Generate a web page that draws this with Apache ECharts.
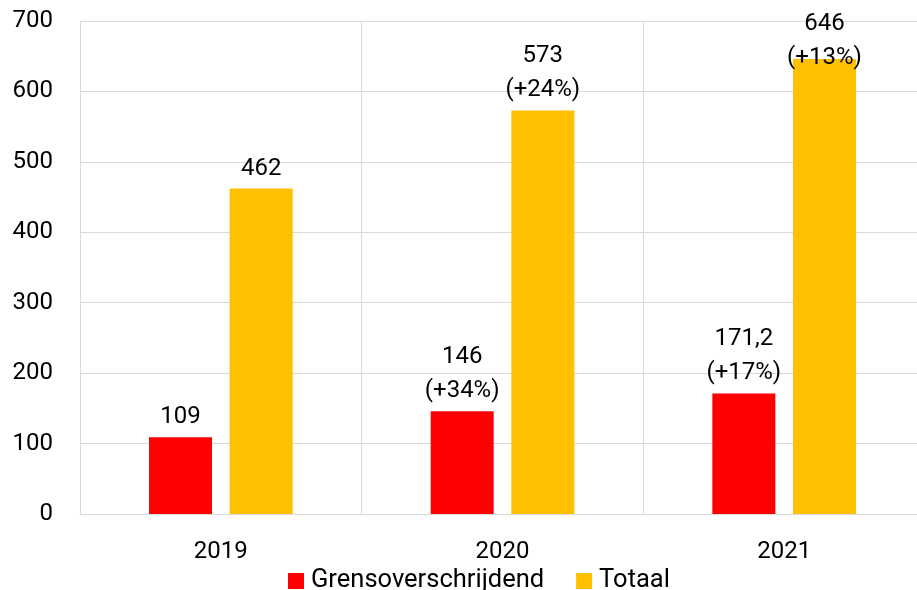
<!DOCTYPE html>
<html>
<head>
<meta charset="utf-8">
<script src="https://cdn.jsdelivr.net/npm/echarts@6/dist/echarts.min.js"></script>
<style>
  html, body { margin: 0; padding: 0; background: #fff; }
  #chart { width: 917px; height: 590px; }
</style>
</head>
<body>
<div id="chart"></div>
<script>
const years = ["2019", "2020", "2021"];
const grens = [109, 146, 171.2];
const totaal = [462, 573, 646];
const grensGrowth = [null, "+34%", "+17%"];
const totaalGrowth = [null, "+24%", "+13%"];
const yTicks = [0, 100, 200, 300, 400, 500, 600, 700];

const font = "Roboto, 'Noto Sans', sans-serif";
const textColor = "#000";
const gridColor = "#d9d9d9";

const nl = new Intl.NumberFormat("nl-NL", { maximumFractionDigits: 1 });

function labelText(value, growth) {
  const v = nl.format(value);
  return growth ? `${v}\n(${growth})` : v;
}

function seriesData(values, growth, nudge) {
  return values.map((value, i) => {
    const item = {
      value,
      label: { formatter: labelText(value, growth[i]) },
    };
    if (nudge && nudge[i]) item.label.offset = [0, nudge[i]];
    return item;
  });
}

const chart = echarts.init(document.getElementById("chart"), null, { renderer: "canvas" });

const barLabel = {
  show: true,
  position: "top",
  distance: 3,
  color: textColor,
  fontFamily: font,
  fontSize: 24,
  lineHeight: 34,
};

chart.setOption({
  animation: false,
  textStyle: { fontFamily: font },
  // plot runs a little past the right edge of the canvas, like the original
  grid: { left: 80, width: 845, top: 21, bottom: 76, outerBoundsMode: "none" },
  legend: {
    top: 563,
    left: 283,
    itemWidth: 16,
    itemHeight: 16,
    itemGap: 32,
    icon: "rect",
    textStyle: { color: textColor, fontFamily: font, fontSize: 25.5, padding: [0, 0, 0, 2] },
    data: ["Grensoverschrijdend", "Totaal"],
  },
  xAxis: {
    type: "category",
    data: years,
    axisLine: { show: true, lineStyle: { color: gridColor, width: 1 } },
    axisTick: { show: false },
    axisLabel: { color: textColor, fontFamily: font, fontSize: 24, margin: 26 },
    splitLine: { show: true, lineStyle: { color: gridColor, width: 1 } },
  },
  yAxis: {
    type: "value",
    min: yTicks[0],
    max: yTicks[yTicks.length - 1],
    interval: 100,
    axisLine: { show: false },
    axisTick: { show: false },
    axisLabel: { color: textColor, fontFamily: font, fontSize: 24, margin: 27 },
    splitLine: { lineStyle: { color: gridColor, width: 1 } },
  },
  series: [
    {
      name: "Grensoverschrijdend",
      type: "bar",
      data: seriesData(grens, grensGrowth),
      barWidth: 63,
      barGap: "28%",
      itemStyle: { color: "#ff0000" },
      label: barLabel,
    },
    {
      name: "Totaal",
      type: "bar",
      data: seriesData(totaal, totaalGrowth, [0, 0, 19]),
      barWidth: 63,
      itemStyle: { color: "#ffc000" },
      label: barLabel,
    },
  ],
});
</script>
</body>
</html>
